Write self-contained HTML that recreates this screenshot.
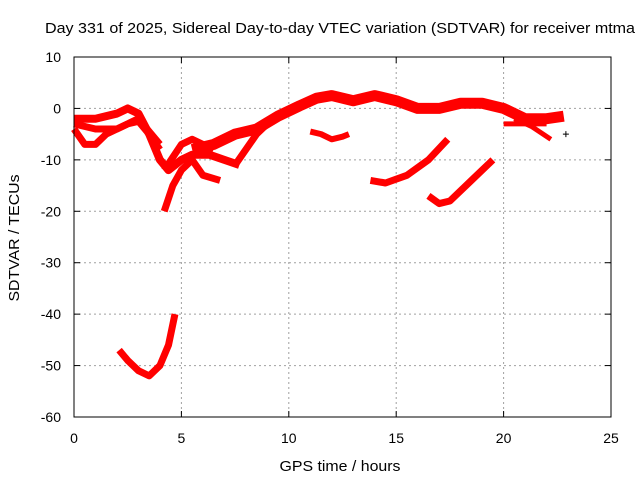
<!DOCTYPE html>
<html><head><meta charset="utf-8"><style>
body{margin:0;background:#fff}
svg text{font-family:"Liberation Sans",sans-serif;font-size:14px}
</style></head><body>
<svg width="640" height="480">
<text x="340" y="33" text-anchor="middle" textLength="590" lengthAdjust="spacingAndGlyphs" style="font-size:15px">Day 331 of 2025, Sidereal Day-to-day VTEC variation (SDTVAR) for receiver mtma</text>
<g id="grid"></g><g id="series"></g><g id="axes"></g>
<text x="340" y="471" text-anchor="middle" textLength="121" lengthAdjust="spacingAndGlyphs" style="font-size:15px">GPS time / hours</text>
<text transform="translate(19,238) rotate(-90)" text-anchor="middle" textLength="127" lengthAdjust="spacingAndGlyphs" style="font-size:15px">SDTVAR / TECUs</text>
</svg>
<script>
const xTicks=[0,5,10,15,20,25];
const yTicks=[10,0,-10,-20,-30,-40,-50,-60];
const s1x=[5.5,6.5,7.5,8.5,9.5,10.5,11.3,12,13,14,15,16,17,18,19,20,21,22,22.8];
const s1y=[-8,-7,-5,-4,-1.5,0.5,2,2.5,1.5,2.5,1.5,0,0,1,1,0,-2,-2,-1.5];
const s2x=[20.5,21.3,22.2];const s2y=[-2,-3.5,-6];
const s3x=[20,21,22];const s3y=[-3,-3,-3];
const s4x=[7.5,8.5,9];const s4y=[-11,-5,-3];
const s5x=[0,1,2,2.5,3,3.5,4,4.4,5,5.5,6.3,7,7.7];const s5y=[-2,-2,-1,0,-1,-5,-10,-12,-10,-9,-9,-10,-11];
const s6x=[0,0.5,1,1.5,2.5,3,3.5,4];const s6y=[-4,-7,-7,-5,-3,-2.5,-5,-8];
const s7x=[0,1,2,3,4];const s7y=[-3,-4,-4,-2,-7];
const s8x=[4.2,4.6,5,5.5,6,6.8];const s8y=[-20,-15,-12,-10,-13,-14];
const s9x=[4.2,5,5.5,6,6.5];const s9y=[-12,-7,-6,-7,-8];
const s10x=[2.1,2.5,3,3.5,4,4.4,4.7];const s10y=[-47,-49,-51,-52,-50,-46,-40];
const s11x=[11,11.5,12,12.5,12.8];const s11y=[-4.5,-5,-6,-5.5,-5];
const s12x=[13.8,14.5,15.5,16.5,17.4];const s12y=[-14,-14.5,-13,-10,-6];
const s13x=[16.5,17,17.5,18.5,19.5];const s13y=[-17,-18.5,-18,-14,-10];
const ptX=[22.9];const ptY=[-5];
const X=h=>74+h*(537/25), Y=v=>57+(10-v)*(360/70);
const NS="http://www.w3.org/2000/svg";
function mk(t,a,p){const e=document.createElementNS(NS,t);for(const k in a)e.setAttribute(k,a[k]);p.appendChild(e);return e;}
const grid=document.getElementById('grid'),axes=document.getElementById('axes'),ser=document.getElementById('series');
mk('rect',{x:74,y:57,width:537,height:360,fill:'none',stroke:'#000'},axes);
xTicks.forEach(t=>{const x=X(t);
 if(t>0&&t<25){const g=mk('line',{x1:x,x2:x,y1:57,y2:417,stroke:'#a0a0a0','stroke-dasharray':'2,3'},grid);
 
 }
 mk('line',{x1:x,x2:x,y1:417,y2:411,stroke:'#000'},axes);mk('line',{x1:x,x2:x,y1:57,y2:63,stroke:'#000'},axes);
 const l=mk('text',{x:x,y:443,'text-anchor':'middle'},axes);l.textContent=t;
 
 });
yTicks.forEach(t=>{const y=Y(t);
 if(t<10&&t>-60){const g=mk('line',{x1:74,x2:611,y1:y,y2:y,stroke:'#a0a0a0','stroke-dasharray':'2,3'},grid);
 
 }
 mk('line',{x1:74,x2:80,y1:y,y2:y,stroke:'#000'},axes);mk('line',{x1:611,x2:605,y1:y,y2:y,stroke:'#000'},axes);
 const l=mk('text',{x:61,y:y+5,'text-anchor':'end'},axes);l.textContent=t;
 
 });
const all=[[s1x,s1y,11],[s2x,s2y,5],[s3x,s3y,5],[s4x,s4y,7],[s5x,s5y,8],[s6x,s6y,7],[s7x,s7y,7],[s8x,s8y,7],[s9x,s9y,7],[s10x,s10y,7],[s11x,s11y,6],[s12x,s12y,7],[s13x,s13y,7]];
all.forEach((s,i)=>{const pts=s[0].map((h,j)=>X(h)+','+Y(s[1][j])).join(' ');
 const p=mk('polyline',{points:pts,fill:'none',stroke:'#ff0000','stroke-width':s[2],'stroke-linejoin':'round','stroke-linecap':'butt'},ser);
 
 });
ptX.forEach((h,i)=>{const x=X(h),y=Y(ptY[i]);
 const p=mk('path',{d:`M${x-3},${y}h6M${x},${y-3}v6`,stroke:'#000','stroke-width':1},ser);
 
 });
</script>
</body></html>
